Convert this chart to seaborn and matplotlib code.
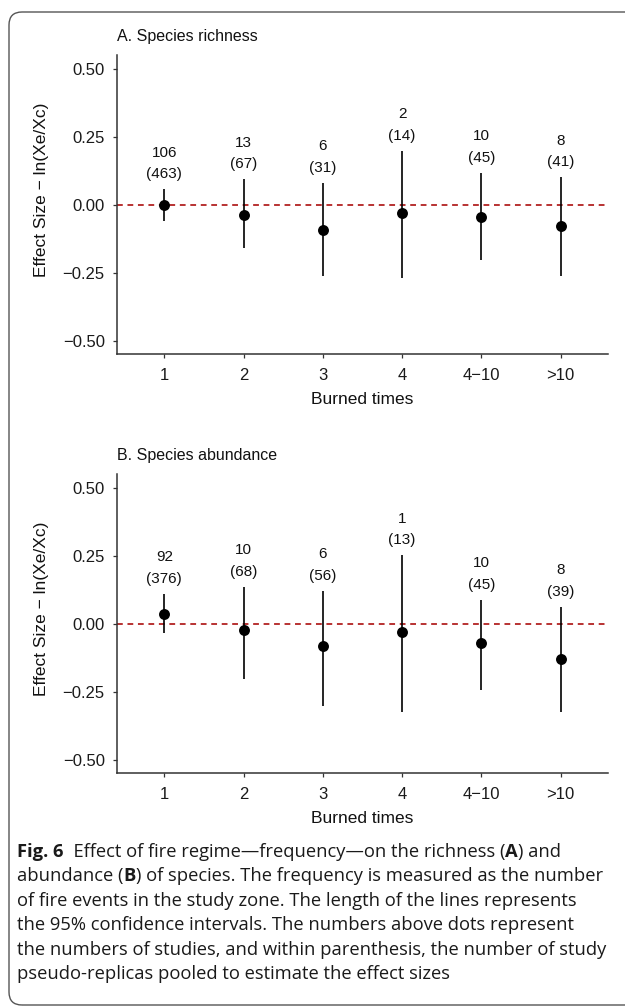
import numpy as np
import pandas as pd
import matplotlib
matplotlib.use("Agg")
import matplotlib.pyplot as plt
import seaborn as sns
from matplotlib.patches import FancyBboxPatch
from matplotlib.transforms import IdentityTransform

# ---------------- data ----------------
categories = ["1", "2", "3", "4", "4\u221210", ">10"]

rich_est = [0.000, -0.039, -0.093, -0.029, -0.045, -0.077]
rich_lo = [-0.060, -0.159, -0.261, -0.268, -0.205, -0.261]
rich_hi = [0.056, 0.093, 0.079, 0.199, 0.118, 0.100]
rich_studies = [106, 13, 6, 2, 10, 8]
rich_replicas = [463, 67, 31, 14, 45, 41]

abun_est = [0.037, -0.023, -0.082, -0.029, -0.071, -0.129]
abun_lo = [-0.035, -0.203, -0.301, -0.323, -0.243, -0.325]
abun_hi = [0.109, 0.134, 0.120, 0.251, 0.088, 0.061]
abun_studies = [92, 10, 6, 1, 10, 8]
abun_replicas = [376, 68, 56, 13, 45, 39]

yticks = [-0.50, -0.25, 0.00, 0.25, 0.50]
panel_titles = ["A. Species richness", "B. Species abundance"]
xlabel = "Burned times"
ylabel = "Effect Size \u2212 ln(Xe/Xc)"

caption_lines = [
    [("Fig. 6", True), ("  Effect of fire regime\u2014frequency\u2014on the richness (", False), ("A", True), (") and", False)],
    [("abundance (", False), ("B", True), (") of species. The frequency is measured as the number", False)],
    [("of fire events in the study zone. The length of the lines represents", False)],
    [("the 95% confidence intervals. The numbers above dots represent", False)],
    [("the numbers of studies, and within parenthesis, the number of study", False)],
    [("pseudo-replicas pooled to estimate the effect sizes", False)],
]

# ---------------- style ----------------
sns.set_theme(style="ticks")
plt.rcParams["font.family"] = ["Liberation Sans", "DejaVu Sans"]

W, H = 625, 1008
fig = plt.figure(figsize=(W / 100, H / 100), dpi=100)
fig.patch.set_facecolor("white")

ax_left, ax_right = 116.7, 608.3
panels = [
    dict(top=55.0, bottom=354.3, est=rich_est, lo=rich_lo, hi=rich_hi,
         st=rich_studies, rep=rich_replicas, title=panel_titles[0]),
    dict(top=474.0, bottom=773.3, est=abun_est, lo=abun_lo, hi=abun_hi,
         st=abun_studies, rep=abun_replicas, title=panel_titles[1]),
]

for p in panels:
    ph = p["bottom"] - p["top"]
    ax = fig.add_axes([ax_left / W, 1 - p["bottom"] / H,
                       (ax_right - ax_left) / W, ph / H])
    df = pd.DataFrame({"cat": categories, "est": p["est"], "lo": p["lo"], "hi": p["hi"]})
    pos = np.arange(len(categories))
    ax.axhline(0, color="#B22222", lw=1.3, ls=(0, (3.2, 2.6)), zorder=1)
    ax.vlines(pos, df["lo"], df["hi"], color="black", lw=1.2, zorder=2)
    sns.scatterplot(data=df, x="cat", y="est", ax=ax, color="black", s=62,
                    edgecolor="black", linewidth=0, zorder=3, legend=False)
    for i in range(len(categories)):
        ax.text(pos[i], p["hi"][i] + 0.055, f"({p['rep'][i]})", ha="center", va="center",
                fontsize=11, color="#111111")
        ax.text(pos[i], p["hi"][i] + 0.135, f"{p['st'][i]}", ha="center", va="center",
                fontsize=11, color="#111111")
    ax.set_xlim(-0.6, 5.6)
    ax.set_ylim(-0.55, 0.55)
    ax.set_xticks(pos)
    ax.set_xticklabels(categories)
    ax.set_yticks(yticks)
    ax.set_yticklabels([f"{v:.2f}".replace("-", "\u2212") for v in yticks])
    sns.despine(ax=ax)
    for s in ["left", "bottom"]:
        ax.spines[s].set_color("#333333")
        ax.spines[s].set_linewidth(1.1)
    ax.tick_params(axis="both", length=2.6, width=0.9, color="#333333",
                   labelsize=12, labelcolor="#1a1a1a", pad=6.0)
    ax.tick_params(axis="x", pad=7.0)
    ax.set_xlabel(xlabel, fontsize=12.5, color="#111111", labelpad=7)
    ax.set_ylabel(ylabel, fontsize=12.5, color="#111111")
    ax.yaxis.set_label_coords((49.0 - ax_left) / (ax_right - ax_left),
                              (p["bottom"] - (p["top"] + 135.0)) / ph)
    ax.text(0, 1 + 18.3 / ph, p["title"],
            transform=ax.transAxes, ha="left", va="center", fontsize=11.5, color="#111111")
    ax.set_facecolor("white")
    ax.grid(False)

# frame around figure + caption
frame = FancyBboxPatch((9, H - 1005), 640, 1005 - 12,
                       boxstyle="round,pad=0,rounding_size=13",
                       transform=IdentityTransform(), facecolor="none",
                       edgecolor="#555555", linewidth=1.0)
fig.add_artist(frame)

# caption with bold runs
fig.canvas.draw()
renderer = fig.canvas.get_renderer()
cap_font = ["Open Sans", "DejaVu Sans"]
y0 = 852.0
dy = 24.4
for li, runs in enumerate(caption_lines):
    x = 17.0
    y = H - (y0 + li * dy)
    for txt, bold in runs:
        t = fig.text(x / W, y / H, txt, fontsize=13.2, family=cap_font,
                     fontweight="bold" if bold else "normal", color="#1a1a1a",
                     ha="left", va="center")
        bb = t.get_window_extent(renderer=renderer)
        x += bb.width

fig.savefig("out.png", dpi=100, facecolor="white")
